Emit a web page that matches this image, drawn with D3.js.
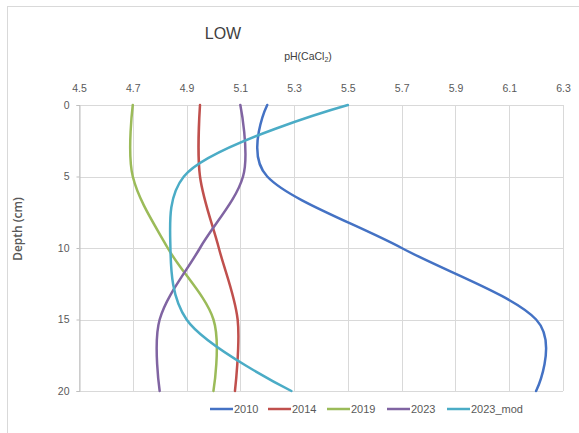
<!DOCTYPE html>
<html>
<head>
<meta charset="utf-8">
<script src="https://cdn.jsdelivr.net/npm/d3@7"></script>
<style>
  html, body { margin: 0; padding: 0; background: #fff; }
  svg { display: block; }
</style>
</head>
<body>
<svg id="chart" width="579" height="433"></svg>
<script>
// Soil pH (CaCl2) profiles by depth, LOW site
const depths = [0, 5, 10, 15, 20];
const ph2010 = [5.20, 5.20, 5.70, 6.20, 6.20];
const ph2014 = [4.95, 4.95, 5.02, 5.09, 5.08];
const ph2019 = [4.70, 4.70, 4.83, 5.00, 5.00];
const ph2023 = [5.10, 5.11, 4.95, 4.80, 4.80];
const ph2023mod = [5.50, 4.89, 4.84, 4.90, 5.29];

const seriesNames = ["2010", "2014", "2019", "2023", "2023_mod"];
const seriesColors = ["#4472c4", "#c0504d", "#9bbb59", "#8064a2", "#4bacc6"];
const xTicks = [4.5, 4.7, 4.9, 5.1, 5.3, 5.5, 5.7, 5.9, 6.1, 6.3];
const yTicks = [0, 5, 10, 15, 20];

// measured profiles: uniform Catmull-Rom spline; modelled profile: centripetal spline
const seriesCurves = [
  d3.curveCatmullRom.alpha(0), d3.curveCatmullRom.alpha(0), d3.curveCatmullRom.alpha(0),
  d3.curveCatmullRom.alpha(0), d3.curveCatmullRom.alpha(0.5)
];

const series = [ph2010, ph2014, ph2019, ph2023, ph2023mod].map((vals, i) => ({
  name: seriesNames[i],
  color: seriesColors[i],
  curve: seriesCurves[i],
  points: vals.map((v, j) => ({ ph: v, depth: depths[j] }))
}));

const svg = d3.select("#chart");
const font = "'Liberation Sans', sans-serif";

svg.append("rect").attr("width", 579).attr("height", 433).attr("fill", "#fff");
// outer chart frame
svg.append("rect")
  .attr("x", 7.5).attr("y", 6.5).attr("width", 700).attr("height", 600)
  .attr("fill", "none").attr("stroke", "#d9d9d9").attr("stroke-width", 1);

const x = d3.scaleLinear().domain([4.5, 6.3]).range([79, 563]);
const y = d3.scaleLinear().domain([0, 20]).range([105, 391]);

// grid
const grid = svg.append("g").attr("stroke", "#d9d9d9").attr("stroke-width", 1);
grid.selectAll("line.v").data(xTicks).join("line")
  .attr("x1", d => Math.round(x(d)) + 0.5).attr("x2", d => Math.round(x(d)) + 0.5)
  .attr("y1", y(0)).attr("y2", y(20));
grid.selectAll("line.h").data(yTicks).join("line")
  .attr("x1", x(4.5)).attr("x2", x(6.3))
  .attr("y1", d => Math.round(y(d)) + 0.5).attr("y2", d => Math.round(y(d)) + 0.5);

// top value axis labels
const xAxis = d3.axisTop(x).tickValues(xTicks).tickFormat(d3.format(".1f")).tickSize(0).tickPadding(0);
const gx = svg.append("g").attr("transform", "translate(0,92)").call(xAxis);
gx.select(".domain").remove();
gx.selectAll("text").attr("font-family", font).attr("font-size", 10.5).attr("fill", "#595959").attr("dy", 0);

// left depth axis
const yAxis = d3.axisLeft(y).tickValues(yTicks).tickSize(3).tickPadding(7);
const gy = svg.append("g").attr("transform", `translate(${Math.round(x(4.5)) + 0.5},0)`).call(yAxis);
gy.select(".domain").attr("stroke", "#bfbfbf");
gy.selectAll(".tick line").attr("stroke", "#bfbfbf");
gy.selectAll("text").attr("font-family", font).attr("font-size", 10.5).attr("fill", "#595959");

// curves
svg.append("g").selectAll("path").data(series).join("path")
  .attr("d", d => d3.line().x(p => x(p.ph)).y(p => y(p.depth)).curve(d.curve)(d.points))
  .attr("fill", "none")
  .attr("stroke", d => d.color)
  .attr("stroke-width", 2.5)
  .attr("stroke-linecap", "round");

// titles
svg.append("text").attr("x", 223).attr("y", 39).attr("text-anchor", "middle")
  .attr("font-family", font).attr("font-size", 16).attr("fill", "#404040").text("LOW");

const xt = svg.append("text").attr("x", 308).attr("y", 60).attr("text-anchor", "middle")
  .attr("font-family", font).attr("font-size", 10.5).attr("fill", "#404040");
xt.append("tspan").text("pH(CaCl");
xt.append("tspan").attr("font-size", 7).attr("dy", 2).text("2");
xt.append("tspan").attr("dy", -2).text(")");

svg.append("text")
  .attr("transform", "translate(22,229) rotate(-90)")
  .attr("text-anchor", "middle")
  .attr("font-family", "'Open Sans', sans-serif").attr("font-weight", 600)
  .attr("font-size", 12).attr("fill", "#595959").text("Depth (cm)");

// legend
const legendX = [210, 268, 327, 387, 447];
const lg = svg.append("g").selectAll("g").data(series).join("g")
  .attr("transform", (d, i) => `translate(${legendX[i]},409)`);
lg.append("line").attr("x1", 0).attr("x2", 23).attr("y1", 0).attr("y2", 0)
  .attr("stroke", d => d.color).attr("stroke-width", 2.5);
lg.append("text").attr("x", 24).attr("y", 4)
  .attr("font-family", font).attr("font-size", 11).attr("fill", "#595959")
  .text(d => d.name);
</script>
</body>
</html>
